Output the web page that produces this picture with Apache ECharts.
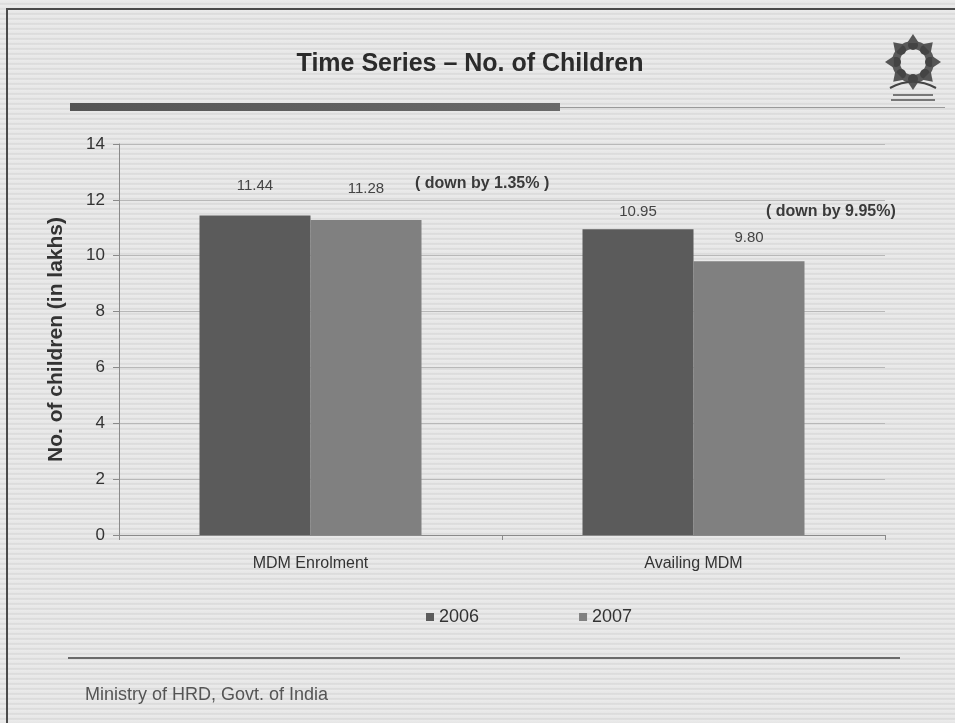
<!DOCTYPE html>
<html>
<head>
<meta charset="utf-8">
<script src="https://cdn.jsdelivr.net/npm/echarts@6/dist/echarts.min.js"></script>
<style>
html,body{margin:0;padding:0;}
#c{width:955px;height:723px;background:repeating-linear-gradient(to bottom,#ebebeb 0px,#e6e6e6 3px,#d2d2d2 4px,#ebebeb 5px);}
</style>
</head>
<body>
<div id="c"></div>
<script>
var categories = ['MDM Enrolment', 'Availing MDM'];
var seriesNames = ['2006', '2007'];
var values2006 = [11.44, 10.95];
var values2007 = [11.28, 9.80];
var yTicks = [0, 2, 4, 6, 8, 10, 12, 14];
var titleText = 'Time Series \u2013 No. of Children';
var yAxisName = 'No. of children (in lakhs)';
var notes = ['( down by 1.35% )', '( down by 9.95%)'];
var footerText = 'Ministry of HRD, Govt. of India';

var NARROW = '"Liberation Sans Narrow", "Arial Narrow", "Liberation Sans", sans-serif';
var labelDist2006 = [22, 10];
var labelDist2007 = [24, 16];

function mkData(vals, dists) {
  return vals.map(function (v, i) {
    return { value: v, label: { distance: dists[i] } };
  });
}

var chart = echarts.init(document.getElementById('c'), null, { renderer: 'canvas' });

var logo = [];
logo.push({ type: 'ring', shape: { cx: 913, cy: 62, r: 21, r0: 13 }, style: { fill: '#5a5a5a' } });
for (var k = 0; k < 8; k++) {
  var a = k * Math.PI / 4 - Math.PI / 2;
  logo.push({ type: 'circle', shape: { cx: 913 + 17 * Math.cos(a), cy: 62 + 17 * Math.sin(a), r: 5 }, style: { fill: '#444' } });
  logo.push({ type: 'polygon', shape: { points: [
    [913 + 28 * Math.cos(a), 62 + 28 * Math.sin(a)],
    [913 + 20 * Math.cos(a + 0.3), 62 + 20 * Math.sin(a + 0.3)],
    [913 + 20 * Math.cos(a - 0.3), 62 + 20 * Math.sin(a - 0.3)]
  ] }, style: { fill: '#555' } });
}
logo.push({ type: 'bezierCurve', shape: { x1: 890, y1: 88, x2: 936, y2: 88, cpx1: 905, cpy1: 80, cpx2: 921, cpy2: 80 }, style: { stroke: '#444', lineWidth: 2, fill: null } });
logo.push({ type: 'rect', shape: { x: 893, y: 94, width: 40, height: 2 }, style: { fill: '#777' } });
logo.push({ type: 'rect', shape: { x: 891, y: 99, width: 44, height: 2 }, style: { fill: '#777' } });

var option = {
  backgroundColor: 'transparent',
  animation: false,
  title: {
    text: titleText,
    left: 465, top: 47, textAlign: 'center',
    textStyle: { fontFamily: NARROW, fontSize: 25, fontWeight: 'bold', color: '#2b2b2b' }
  },
  legend: {
    data: seriesNames,
    left: 421, top: 603,
    itemWidth: 8, itemHeight: 8, itemGap: 100,
    icon: 'rect',
    textStyle: { fontFamily: NARROW, fontSize: 18, color: '#333', padding: [0, 0, 0, 0] }
  },
  grid: { left: 119, right: 70, top: 144, bottom: 188, containLabel: false },
  xAxis: {
    type: 'category',
    data: categories,
    axisLine: { lineStyle: { color: '#8a8a8a', width: 1 } },
    axisTick: { show: true, length: 5, lineStyle: { color: '#8a8a8a' } },
    axisLabel: { fontFamily: NARROW, fontSize: 16, color: '#333', margin: 21 }
  },
  yAxis: {
    type: 'value',
    min: yTicks[0], max: yTicks[yTicks.length - 1], interval: 2,
    name: yAxisName,
    nameLocation: 'middle', nameGap: 52, nameRotate: 90,
    nameTextStyle: { fontFamily: NARROW, fontSize: 21, fontWeight: 'bold', color: '#333' },
    axisLine: { show: true, lineStyle: { color: '#8a8a8a' } },
    axisTick: { show: true, length: 6, lineStyle: { color: '#8a8a8a' } },
    axisLabel: { fontFamily: NARROW, fontSize: 17, color: '#333', margin: 14 },
    splitLine: { show: true, lineStyle: { color: '#b8b8b8', width: 1 } }
  },
  series: [
    {
      name: seriesNames[0], type: 'bar',
      data: mkData(values2006, labelDist2006),
      itemStyle: { color: '#5b5b5b' },
      barWidth: 111, barGap: '0%',
      label: { show: true, position: 'top', formatter: function (p) { return p.value.toFixed(2); }, fontFamily: NARROW, fontSize: 15, color: '#444' }
    },
    {
      name: seriesNames[1], type: 'bar',
      data: mkData(values2007, labelDist2007),
      itemStyle: { color: '#808080' },
      barWidth: 111, barGap: '0%',
      label: { show: true, position: 'top', formatter: function (p) { return p.value.toFixed(2); }, fontFamily: NARROW, fontSize: 15, color: '#444' }
    }
  ],
  graphic: [
    { type: 'rect', shape: { x: 6, y: 8, width: 2, height: 715 }, style: { fill: '#4a4a4a' } },
    { type: 'rect', shape: { x: 6, y: 8, width: 949, height: 2 }, style: { fill: '#4a4a4a' } },
    { type: 'rect', shape: { x: 70, y: 103, width: 490, height: 8 }, style: { fill: new echarts.graphic.LinearGradient(0, 0, 1, 0, [{ offset: 0, color: '#555' }, { offset: 1, color: '#6a6a6a' }]) } },
    { type: 'rect', shape: { x: 560, y: 107, width: 385, height: 1 }, style: { fill: '#9a9a9a' } },
    { type: 'rect', shape: { x: 68, y: 657, width: 832, height: 2 }, style: { fill: '#6a6a6a' } },
    { type: 'text', left: 85, top: 686, style: { text: footerText, fontFamily: NARROW, fontSize: 18, fill: '#555' } },
    { type: 'text', left: 415, top: 176, style: { text: notes[0], fontFamily: NARROW, fontSize: 16, fontWeight: 'bold', fill: '#3a3a3a' } },
    { type: 'text', left: 766, top: 204, style: { text: notes[1], fontFamily: NARROW, fontSize: 16, fontWeight: 'bold', fill: '#3a3a3a' } }
  ].concat(logo)
};
chart.setOption(option);
</script>
</body>
</html>
